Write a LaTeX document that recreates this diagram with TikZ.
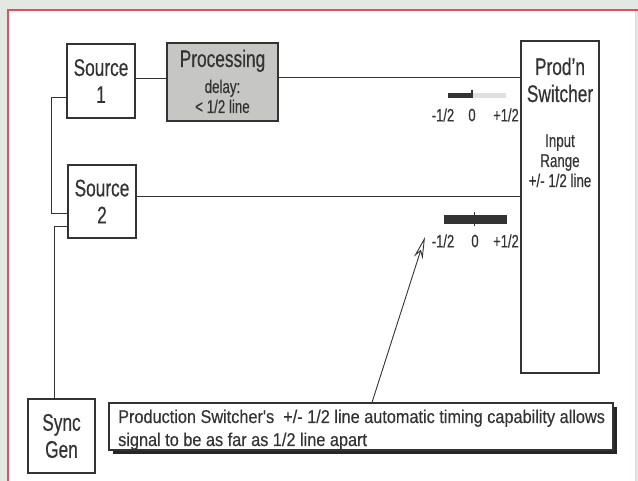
\documentclass[tikz,border=0pt]{standalone}
\usepackage{fontspec}
\setmainfont[FakeStretch=0.72,FakeBold=0.4]{Liberation Sans}
\newfontfamily\capfont[FakeStretch=0.88,FakeBold=0.3]{Liberation Sans}
\usetikzlibrary{arrows.meta,shadows}
\definecolor{paper}{HTML}{E4E8E2}
\definecolor{redline}{HTML}{E2505E}
\definecolor{ink}{HTML}{333333}
\definecolor{procfill}{HTML}{C6C6C4}
\newcommand{\apos}{\char"0027\relax}
\tikzset{
  wire/.style={draw=ink, line width=0.9pt},
  box/.style={draw=ink, line width=1.1pt, fill=white, inner sep=0pt},
  big/.style={font=\fontsize{24}{27}\selectfont, text=ink, align=center},
  small/.style={font=\fontsize{18.5}{20}\selectfont, text=ink, align=center},
  tiny/.style={font=\fontsize{18}{19}\selectfont, text=ink},
  capt/.style={font=\capfont\fontsize{18.5}{23}\selectfont, text=ink, align=left},
}
\begin{document}
\begin{tikzpicture}[x=1pt,y=-1pt]
\useasboundingbox (0,0) rectangle (638,481);
\fill[paper] (0,0) rectangle (638,481);
\fill[white] (8,10) rectangle (635,481);
\draw[redline, line width=1.6pt] (8,481) -- (8,10) -- (638,10);
\draw[black!15, line width=0.8pt] (635,11) -- (635,481);

% boxes
\node[box, minimum width=68pt, minimum height=74pt, big] (s1) at (101,81) {Source\\1};
\node[box, fill=procfill, minimum width=111pt, minimum height=78pt] (proc) at (222.5,82) {};
\node[big, anchor=base] (proct) at (222.5,67) {Processing};
\node[small, anchor=base] (procd) at (222.5,93) {delay:};
\node[small, anchor=base] (procl) at (222.5,113) {< 1/2 line};
\node[box, minimum width=68pt, minimum height=73pt, big] (s2) at (102,201.5) {Source\\2};
\node[box, minimum width=78pt, minimum height=332pt] (sw) at (560,207) {};
\node[big, anchor=base] (sw1) at (560,75) {Prod\apos n};
\node[big, anchor=base] (sw2) at (560,102) {Switcher};
\node[small, anchor=base] (sw3) at (560,147) {Input};
\node[small, anchor=base] (sw4) at (560,167) {Range};
\node[small, anchor=base] (sw5) at (560,187) {+/- 1/2 line};
\node[box, minimum width=67pt, minimum height=74pt, big] (sync) at (61.5,436) {Sync\\Gen};

% caption
\node[box, minimum width=504pt, minimum height=47pt,
      drop shadow={shadow xshift=4pt, shadow yshift=-4pt, fill=black!85, opacity=1}] (cap) at (361,426.5) {};
\node[capt, anchor=base west, inner sep=0pt] (cap1) at (118,423) {Production Switcher\apos s\ \ +/- 1/2 line automatic timing capability allows};
\node[capt, anchor=base west, inner sep=0pt] (cap2) at (118,446) {signal to be as far as 1/2 line apart};

% connectors
\draw[wire] ([yshift=3pt]s1.east) -- ([yshift=3pt]s1.east -| proc.west);
\draw[wire] ([yshift=5pt]proc.east) -- ([yshift=5pt]proc.east -| sw.west);
\draw[wire] ([yshift=5pt]s2.east) -- ([yshift=5pt]s2.east -| sw.west);
\draw[wire] ([yshift=-16pt]s1.west) -- ++(-15,0) |- ([yshift=-11.5pt]s2.west);
\draw[wire] ([xshift=-7.5pt]sync.north) |- ([yshift=-24.5pt]s2.west);

% timing markers (top)
\fill[black!12] (472,93) rectangle (506,98);
\fill[ink] (448,93) rectangle (472,98);
\draw[ink, line width=1.2pt] (472,90) -- (472,98);
\node[tiny] (t1) at (443,115) {-1/2};
\node[tiny] (t2) at (472,115) {0};
\node[tiny] (t3) at (506,115) {+1/2};
% timing markers (bottom)
\fill[ink] (444,215) rectangle (507,224);
\draw[ink, line width=0.8pt] (474,212) -- (474,226);
\node[tiny] (b1) at (443,241) {-1/2};
\node[tiny] (b2) at (475,241) {0};
\node[tiny] (b3) at (506,241) {+1/2};

% pointer arrow
\coordinate (tip) at (425,237);
\draw[wire, -{Stealth[open, length=22pt, width=9pt, inset=7pt]}] ([xshift=11pt]cap.north) -- (tip);
\end{tikzpicture}
\end{document}
